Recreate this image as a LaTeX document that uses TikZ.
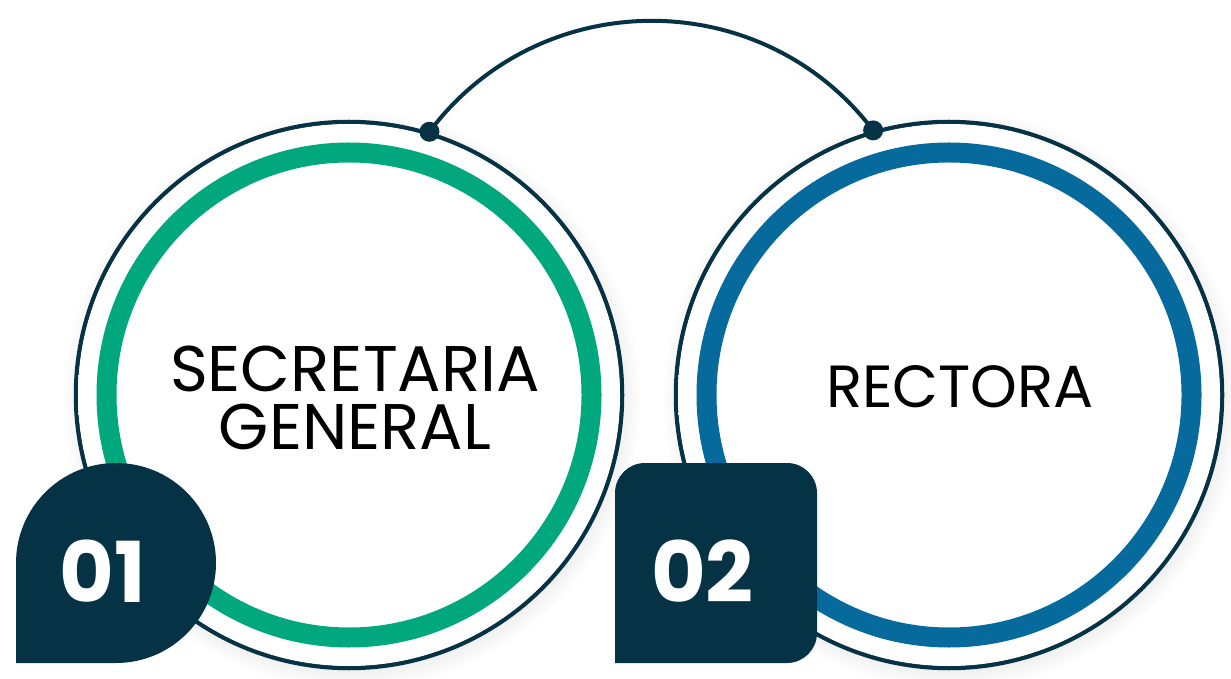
\documentclass[tikz,border=0pt]{standalone}
\usepackage{fontspec}
\setmainfont{Poppins}
\usetikzlibrary{positioning}
\definecolor{navy}{RGB}{6,50,70}
\definecolor{sgreen}{RGB}{2,168,125}
\definecolor{sblue}{RGB}{7,106,157}
\pgfdeclareradialshading{innerglow}{\pgfpoint{0bp}{0bp}}{%
  color(0bp)=(white); color(25bp)=(white); color(50bp)=(black!24)}
\pgfdeclareradialshading{gapglow}{\pgfpoint{0bp}{0bp}}{%
  color(0bp)=(white); color(45bp)=(white); color(50bp)=(black!10)}
\tikzset{
  plate/.style={
    circle,
    draw=navy,
    line width=4.5pt,
    fill=white,
    minimum size=546pt,
    inner sep=0pt,
  },
  dot/.style={circle, fill=navy, minimum size=20pt, inner sep=0pt},
  link/.style={draw=navy, line width=4pt},
  step text/.style={align=center, text=black},
  badge num/.style={text=white, font=\fontsize{84}{84}\selectfont\bfseries, anchor=base},
}

\begin{document}
\begin{tikzpicture}[x=1pt, y=1pt]
      \useasboundingbox (0,0) rectangle (1231,678);

      % soft shadow under the plates
      \foreach \cx in {349,949}{
        \foreach \r in {264,268,...,288}
          \fill[black, fill opacity=0.01] (\cx+3,278) circle (\r);
      }

      \node[plate] (c1) at (349,283) {};
      \node[plate] (c2) at (949,283) {};

      \shade[shading=gapglow] (c1) circle (271);
      \shade[shading=gapglow] (c2) circle (271);
      \shade[shading=innerglow] (c1) circle (233);
      \shade[shading=innerglow] (c2) circle (233);
      \draw[sgreen, line width=20pt] (c1) circle (242.5);
      \draw[sblue, line width=20pt] (c2) circle (242.5);

      % link over the top
      \node[dot] (d1) at (c1.73.5) {};
      \node[dot] (d2) at (c2.106.5) {};
      \draw[link] (d1.center) to[bend left=53, looseness=1.06] (d2.center);

      \node[step text, font=\fontsize{64.5}{58}\selectfont] (t1) at (355,280) {SECRETARIA\\GENERAL};
      \node[step text, font=\fontsize{59.5}{59.5}\selectfont] (t2) at (960,291) {RECTORA};

      % number badges
      \fill[navy] (16,15) -- (116,15) arc[start angle=-90, end angle=0, radius=100]
        arc[start angle=0, end angle=180, radius=100] -- cycle;
      \fill[navy, rounded corners=30pt] (615,15) -- (817,15) -- (817,215) -- (615,215) [sharp corners] -- cycle;

      \node[badge num] (n1) at (102.5,76) {01};
      \node[badge num] (n2) at (702.5,76) {02};
\end{tikzpicture}
\end{document}
